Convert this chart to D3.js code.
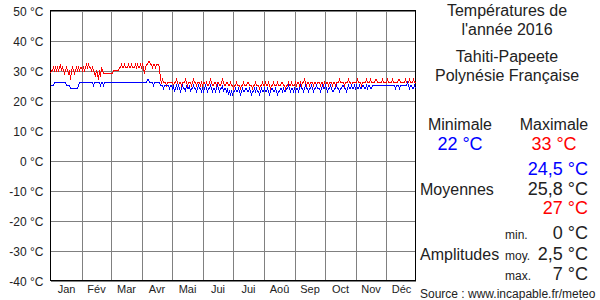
<!DOCTYPE html>
<html>
<head>
<meta charset="utf-8">
<script src="https://cdn.jsdelivr.net/npm/d3@7"></script>
<style>
  body { margin: 0; background: #fff; }
  text { font-family: "Liberation Sans", Arial, sans-serif; fill: #222; }
</style>
</head>
<body>
<div id="chart"></div>
<script>
const months = ["Jan", "Fév", "Mar", "Avr", "Mai", "Jui", "Jui", "Aoû", "Sep", "Oct", "Nov", "Déc"];
const monthDays = [31, 29, 31, 30, 31, 30, 31, 31, 30, 31, 30, 31];
const yTicks = [-40, -30, -20, -10, 0, 10, 20, 30, 40, 50];

// daily maximum, one line per month
const tmax = [
  29,30,30,31,30,31,30,31,30,31,32,30,31,30,29,30,31,30,29,30,27,30,31,30,29,30,31,30,31,30,31,
  31,30,31,30,31,32,31,32,31,31,30,31,30,29,28,30,29,27,30,28,31,30,29,29,29,29,29,29,29,
  29,29,29,30,30,30,30,30,30,31,31,32,31,31,32,31,31,31,32,31,31,32,31,31,31,32,31,32,31,31,32,
  31,32,31,29,31,32,32,33,33,32,32,31,32,32,31,32,32,32,31,27,26,27,26,26,26,25,26,26,26,26,
  26,26,25,26,26,27,26,25,26,26,25,26,26,26,27,26,25,26,26,26,25,26,27,26,26,25,26,26,26,25,26,
  25,26,26,25,26,25,25,26,27,26,25,25,26,26,25,26,26,25,25,26,27,26,25,25,26,26,25,25,26,25,
  25,24,25,25,26,25,25,25,24,25,25,26,25,25,25,26,26,25,25,25,24,25,25,26,25,25,25,24,25,25,26,
  25,25,26,25,25,26,25,24,25,25,26,25,25,25,26,25,25,25,26,26,25,25,24,25,25,26,25,25,26,25,25,
  25,26,25,26,26,25,26,25,26,26,27,26,25,26,26,25,26,26,26,25,26,26,25,26,26,26,25,26,26,25,
  26,25,26,26,25,26,26,26,25,26,26,25,26,26,26,27,26,26,26,26,25,26,26,26,27,26,26,25,26,26,26,
  26,26,27,26,26,26,25,26,26,26,26,27,26,26,26,27,26,26,26,26,27,27,26,26,26,26,26,27,26,26,
  26,26,27,26,26,26,26,27,26,26,26,26,26,27,27,26,26,26,26,26,27,26,26,26,27,26,26,26,27,26,26
];

// daily minimum, one line per month
const tmin = [
  25,25,25,25,26,26,26,26,26,26,26,26,26,26,26,26,25,25,25,25,24,24,24,24,24,24,24,24,25,26,26,
  26,26,26,26,26,26,26,26,26,26,26,26,25,26,26,26,26,26,26,25,26,26,25,26,26,26,26,26,26,
  26,26,26,26,26,26,26,26,26,26,26,26,26,26,26,26,26,26,26,26,26,26,26,26,26,26,26,26,26,26,26,
  26,26,26,26,26,26,27,27,26,26,26,26,25,26,26,26,26,26,26,25,25,25,24,25,25,25,25,25,24,25,
  25,24,25,23,24,25,24,25,24,23,24,25,24,24,23,25,24,24,25,23,24,24,25,24,24,23,24,25,24,24,23,
  24,23,24,25,24,23,24,24,25,24,23,24,24,23,24,25,24,23,24,24,25,23,24,24,23,24,22,23,22,23,
  22,23,23,24,23,23,24,23,22,23,24,23,23,24,24,23,23,24,23,22,23,23,24,23,24,23,23,22,23,24,23,
  23,24,23,23,24,23,22,23,24,24,23,23,24,23,22,23,23,24,24,23,24,23,23,24,24,25,24,23,24,24,23,
  24,23,24,24,23,24,25,24,24,23,24,25,24,24,23,24,24,25,24,23,24,24,25,24,24,24,23,24,25,24,
  24,25,24,23,24,24,25,24,23,23,24,24,25,24,24,23,24,24,25,25,24,24,23,24,25,24,24,25,24,24,25,
  24,25,24,24,25,24,24,25,25,24,24,25,24,25,25,24,24,25,25,25,25,25,25,25,25,25,25,25,25,25,
  25,25,25,25,25,25,25,25,25,25,24,25,25,25,24,25,25,25,25,25,25,25,26,25,24,25,25,24,24,25,24
];

const titleLines = ["Températures de", "l'année 2016", "Tahiti-Papeete", "Polynésie Française"];
const extremes = ["22 °C", "33 °C"];
const means = ["24,5 °C", "25,8 °C", "27 °C"];
const amplitudeLabels = ["min.", "moy.", "max."];
const amplitudes = ["0 °C", "2,5 °C", "7 °C"];

const svg = d3.select("#chart").append("svg")
    .attr("width", 600)
    .attr("height", 300);

const x = d3.scaleLinear().domain([0, 366]).range([50.5, 416.5]);
const y = d3.scaleLinear().domain([-40, 50]).range([280.5, 10.5]);

// month boundaries
let bounds = [];
let acc = 0;
monthDays.forEach(function(n) { acc += n; bounds.push(acc); });
let mids = monthDays.map(function(n, i) { return (bounds[i] - n / 2); });

// horizontal grid + y labels
let yAxis = svg.append("g")
    .attr("transform", "translate(50.5,0)")
    .call(d3.axisLeft(y).tickValues(yTicks).tickSize(-365).tickPadding(7)
      .tickFormat(function(d) { return d + " °C"; }));
yAxis.select(".domain").remove();
yAxis.selectAll("line").attr("stroke", "#808080").attr("shape-rendering", "crispEdges");
yAxis.selectAll("text")
    .attr("font-size", 12)
    .attr("font-family", "Liberation Sans, Arial, sans-serif")
    .attr("dy", "0.38em")
    .style("fill", "#222");

// vertical grid at month ends
let xGrid = svg.append("g")
    .attr("transform", "translate(0,280.5)")
    .call(d3.axisBottom(x).tickValues(bounds.slice(0, 11)).tickSize(-270).tickFormat(""));
xGrid.select(".domain").remove();
xGrid.selectAll("line").attr("stroke", "#808080").attr("shape-rendering", "crispEdges");

// month labels
let xLabels = svg.append("g")
    .attr("transform", "translate(0,280.5)")
    .call(d3.axisBottom(x).tickValues(mids).tickSize(0).tickPadding(5)
      .tickFormat(function(d, i) { return months[i]; }));
xLabels.select(".domain").remove();
xLabels.selectAll("text")
    .attr("font-size", 11)
    .attr("font-family", "Liberation Sans, Arial, sans-serif")
    .style("fill", "#222");

// frame
svg.append("rect")
    .attr("x", 50.5)
    .attr("y", 10.5)
    .attr("width", 365)
    .attr("height", 270)
    .attr("fill", "none")
    .attr("stroke", "#000")
    .attr("shape-rendering", "crispEdges");

let lineMap = d3.line()
    .x(function(d, i) { return x(i); })
    .y(function(d) { return y(d); });

svg.append("path")
    .datum(tmax)
    .attr("d", lineMap)
    .attr("fill", "none")
    .attr("stroke", "#ff0000")
    .attr("stroke-width", 1)
    .attr("shape-rendering", "crispEdges");

svg.append("path")
    .datum(tmin)
    .attr("d", lineMap)
    .attr("fill", "none")
    .attr("stroke", "#0000ff")
    .attr("stroke-width", 1)
    .attr("shape-rendering", "crispEdges");

// right panel
let panel = svg.append("g");

function addText(t, px, py, size, anchor, color) {
  return panel.append("text")
      .attr("x", px)
      .attr("y", py)
      .attr("font-size", size)
      .attr("text-anchor", anchor)
      .style("fill", color || "#222")
      .text(t);
}

addText(titleLines[0], 507, 16, 16, "middle");
addText(titleLines[1], 507, 35, 16, "middle");
addText(titleLines[2], 507, 62, 16, "middle");
addText(titleLines[3], 507, 81, 16, "middle");

addText("Minimale", 460, 130, 16, "middle");
addText("Maximale", 554, 130, 16, "middle");
addText(extremes[0], 460, 150, 18, "middle", "#0000ff");
addText(extremes[1], 554, 150, 18, "middle", "#ff0000");

addText(means[0], 588, 175, 18, "end", "#0000ff");
addText(means[1], 588, 195, 18, "end");
addText(means[2], 588, 214, 18, "end", "#ff0000");
addText("Moyennes", 420, 195, 16, "start");

addText("Amplitudes", 420, 260, 16, "start");
amplitudeLabels.forEach(function(l, i) {
  addText(l, 505, 239 + i * 20.5, 12, "start");
  addText(amplitudes[i], 588, 239 + i * 20.5, 18, "end");
});

addText("Source : www.incapable.fr/meteo", 420, 298, 12, "start");
</script>
</body>
</html>
